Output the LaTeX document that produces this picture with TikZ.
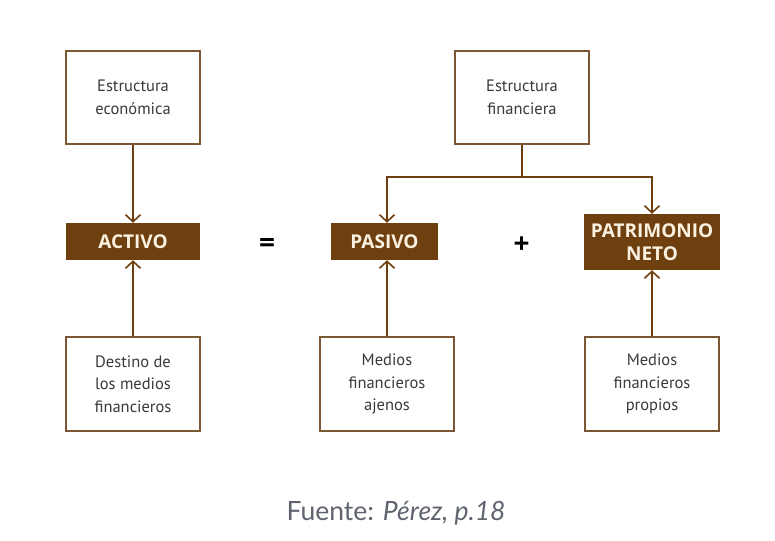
\documentclass[tikz,border=0pt]{standalone}
\usepackage{fontspec}
\setmainfont{PT Sans}
\newfontfamily\capfont{Lato}
\newfontfamily\keyfont{Open Sans}
\usetikzlibrary{arrows.meta}
\definecolor{brn}{HTML}{6E3F0F}
\definecolor{brd}{HTML}{7A5633}
\definecolor{txt}{HTML}{3A3A3A}
\definecolor{cream}{HTML}{FBF1E0}
\definecolor{cap}{HTML}{5F6470}
\tikzset{
  plainbox/.style={draw=brd, line width=1.3pt, fill=white, inner sep=0pt, text=txt, align=center,
    font=\fontsize{16.5}{22.5}\selectfont},
  keybox/.style={fill=brn, inner sep=0pt, text=cream, align=center,
    font=\keyfont\bfseries\fontsize{19}{23}\selectfont},
  conn/.style={draw=brn, line width=1.6pt, -{Straight Barb[length=7pt,width=15pt,line width=1.6pt]}},
  link/.style={draw=brn, line width=1.6pt},
  sym/.style={text=black, font=\keyfont\bfseries\fontsize{28}{28}\selectfont}
}
\begin{document}
\begin{tikzpicture}[x=1pt,y=-1pt]
\useasboundingbox[fill=white] (0,0) rectangle (775,540);
% top boxes
\node[plainbox, minimum width=134pt, minimum height=93pt] (ee) at (133,97.5) {Estructura\\económica};
\node[plainbox, minimum width=134pt, minimum height=93pt] (ef) at (522,97.5) {Estructura\\financiera};
% key boxes
\node[keybox, minimum width=134pt, minimum height=37pt] (act) at (133,241.5) {ACTIVO};
\node[keybox, minimum width=107pt, minimum height=37pt] (pas) at (384.5,241.5) {PASIVO};
\node[keybox, minimum width=136pt, minimum height=56pt] (pn) at (652,242) {PATRIMONIO\\NETO};
% symbols
\node[sym] (eq) at (267,245) {=};
\node[sym] (pl) at (521.5,245) {+};
% bottom boxes
\node[plainbox, minimum width=134pt, minimum height=94pt] (dm) at (133,384) {Destino de\\los medios\\financieros};
\node[plainbox, minimum width=134pt, minimum height=94pt] (ma) at (387,384) {Medios\\financieros\\ajenos};
\node[plainbox, minimum width=134pt, minimum height=94pt] (mp) at (652,384) {Medios\\financieros\\propios};
% connectors
\draw[conn] (ee.south) -- (act.north);
\coordinate (j) at (ef.south |- 0,177);
\coordinate (jl) at (387,177);
\coordinate (jr) at (pn.north |- 0,177);
\draw[link] (ef.south) -- (j);
\draw[conn] (j) -- (jl) -- (jl |- pas.north);
\draw[conn] (j) -- (jr) -- (pn.north);
\draw[conn] (dm.north) -- (act.south);
\draw[conn] (ma.north) -- (ma.north |- pas.south);
\draw[conn] (mp.north) -- (pn.south);
% caption
\node[text=cap, font=\capfont\fontsize{26.5}{28}\selectfont] (src) at (396,513) {Fuente: \textit{Pérez, p.18}};
\end{tikzpicture}
\end{document}
